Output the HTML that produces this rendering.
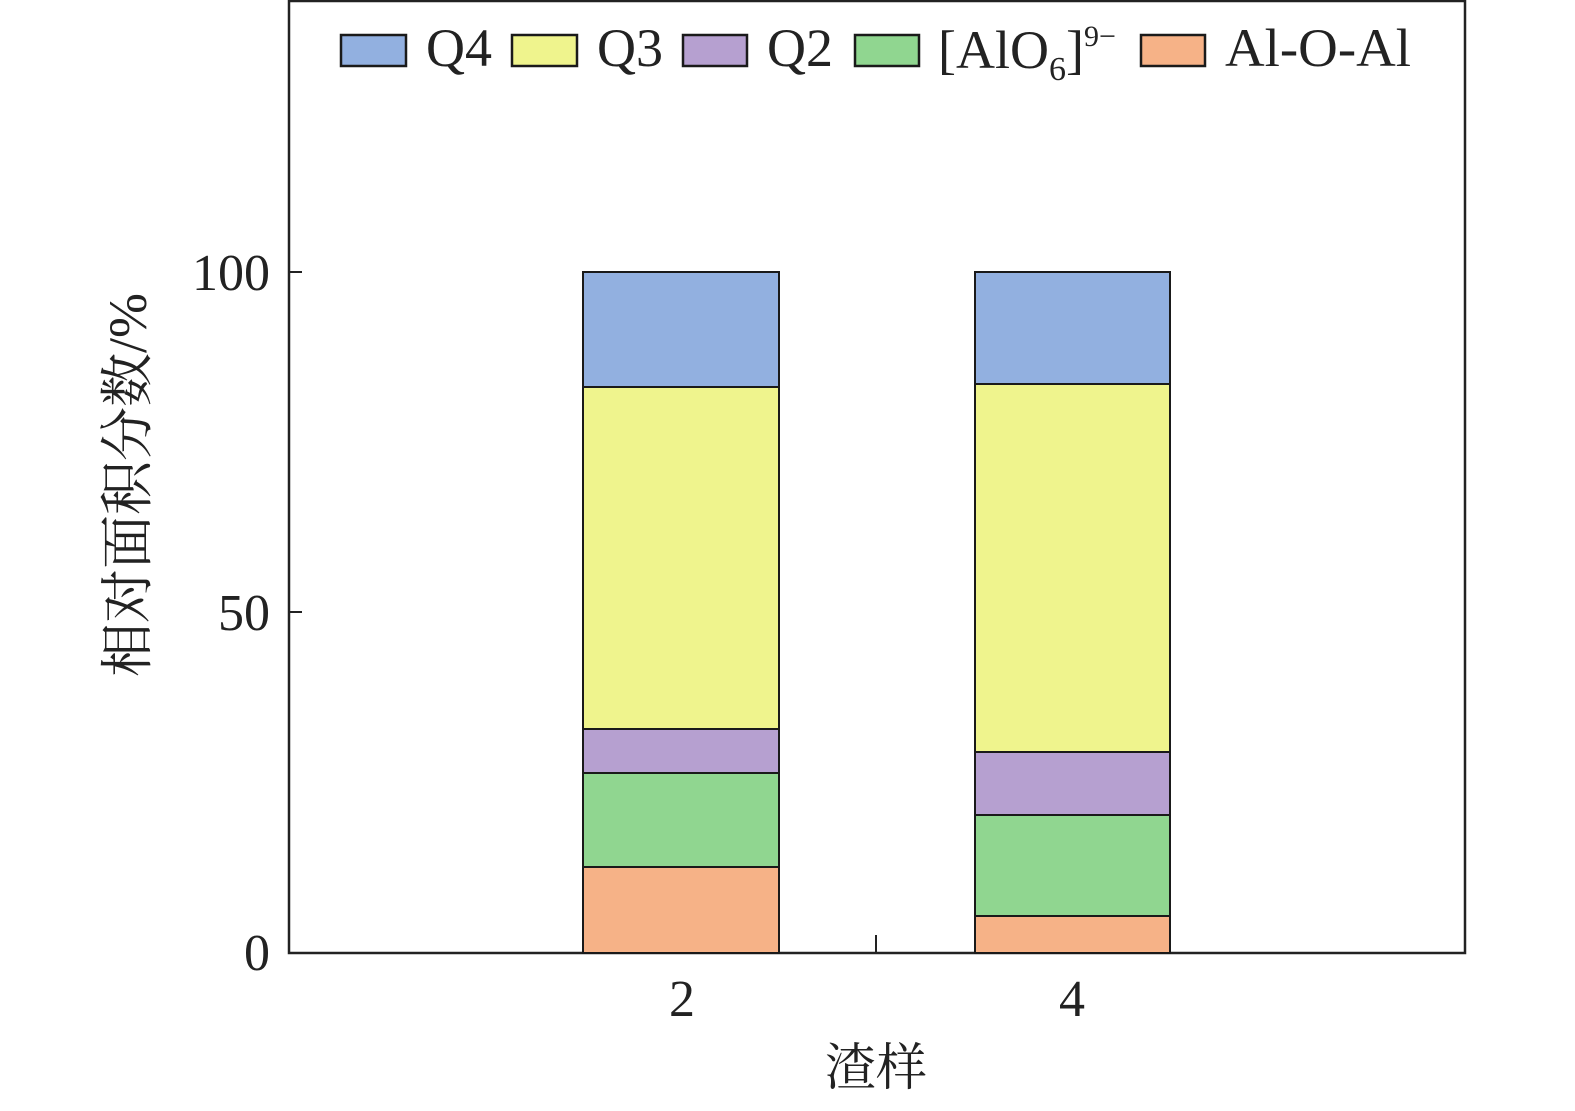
<!DOCTYPE html>
<html><head><meta charset="utf-8"><style>
html,body{margin:0;padding:0;background:#fff;}
svg text{font-family:"Liberation Serif","Noto Serif CJK SC",serif;fill:#222;}
</style></head><body>
<svg width="1575" height="1106" viewBox="0 0 1575 1106" xmlns="http://www.w3.org/2000/svg">
<rect x="289" y="1" width="1176" height="952" fill="none" stroke="#222" stroke-width="2.5"/>
<g stroke="#222" stroke-width="2">
<line x1="289" y1="272" x2="302" y2="272"/>
<line x1="289" y1="612" x2="302" y2="612"/>
<line x1="876" y1="953" x2="876" y2="935"/>
</g>
<g font-size="52" text-anchor="end">
<text x="270" y="290">100</text>
<text x="270" y="630">50</text>
<text x="270" y="970">0</text>
</g>
<g font-size="52" text-anchor="middle">
<text x="682" y="1016">2</text>
<text x="1072" y="1016">4</text>
</g>
<text x="876" y="1085" font-size="51" text-anchor="middle" font-family="'Noto Serif CJK SC',serif">渣样</text>
<text transform="translate(146,485) rotate(-90)" font-size="54" text-anchor="middle">相对面积分数/%</text>
<g stroke="#1a1a1a" stroke-width="2">
<rect x="583" y="867" width="196" height="86" fill="#f6b287"/>
<rect x="583" y="773" width="196" height="94" fill="#90d690"/>
<rect x="583" y="729" width="196" height="44" fill="#b6a0d0"/>
<rect x="583" y="387" width="196" height="342" fill="#eff48d"/>
<rect x="583" y="272" width="196" height="115" fill="#92b0e0"/>
<rect x="975" y="916" width="195" height="37" fill="#f6b287"/>
<rect x="975" y="815" width="195" height="101" fill="#90d690"/>
<rect x="975" y="752" width="195" height="63" fill="#b6a0d0"/>
<rect x="975" y="384" width="195" height="368" fill="#eff48d"/>
<rect x="975" y="272" width="195" height="112" fill="#92b0e0"/>
</g>
<g stroke="#1a1a1a" stroke-width="2.5">
<rect x="341" y="35" width="65" height="31" fill="#92b0e0"/>
<rect x="512" y="35" width="65" height="31" fill="#eff48d"/>
<rect x="683" y="35" width="64" height="31" fill="#b6a0d0"/>
<rect x="855" y="35" width="64" height="31" fill="#90d690"/>
<rect x="1141" y="35" width="64" height="31" fill="#f6b287"/>
</g>
<g font-size="54">
<text x="426" y="66" textLength="66" lengthAdjust="spacingAndGlyphs">Q4</text>
<text x="597" y="66" textLength="66" lengthAdjust="spacingAndGlyphs">Q3</text>
<text x="767" y="66" textLength="66" lengthAdjust="spacingAndGlyphs">Q2</text>
<text x="938" y="68">[AlO<tspan font-size="34" dy="12">6</tspan><tspan dy="-12">]</tspan><tspan font-size="30" dy="-22">9−</tspan></text>
<text x="1225" y="66" textLength="186" lengthAdjust="spacingAndGlyphs">Al-O-Al</text>
</g>
</svg>
</body></html>
